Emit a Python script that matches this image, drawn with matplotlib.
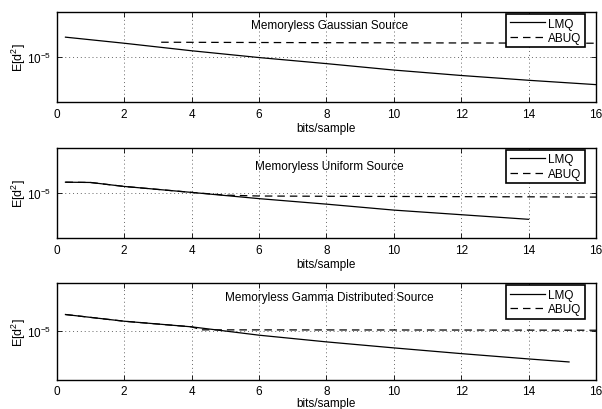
import numpy as np
import matplotlib
matplotlib.use("Agg")
import matplotlib.pyplot as plt
from matplotlib.ticker import FixedLocator, NullLocator

plt.rcParams['font.family'] = ['Liberation Sans', 'DejaVu Sans']
plt.rcParams['mathtext.fontset'] = 'custom'
plt.rcParams['mathtext.rm'] = 'Liberation Sans'
plt.rcParams['mathtext.it'] = 'Liberation Sans:italic'

titles = ["Memoryless Gaussian Source",
          "Memoryless Uniform Source",
          "Memoryless Gamma Distributed Source"]

# --- Gaussian ---
g_lmq_x = [0.26, 2, 4, 6, 8, 10, 12, 14, 16]
g_lmq_y = [10**v for v in [-4.781, -4.848, -4.931, -5.006, -5.073, -5.144, -5.204, -5.257, -5.305]]
g_abuq_x = [3.1, 8, 16]
g_abuq_y = [10**v for v in [-4.837, -4.842, -4.848]]

# --- Uniform ---
u_lmq_x = [0.26, 1, 2, 4, 6, 8, 10, 12, 14]
u_lmq_y = [10**v for v in [-4.882, -4.885, -4.929, -4.995, -5.064, -5.125, -5.191, -5.242, -5.293]]
u_abuq_x = [0.26, 1, 2, 4, 5, 6, 8, 10, 12, 14, 16]
u_abuq_y = [10**v for v in [-4.882, -4.885, -4.929, -4.995, -5.025, -5.035, -5.038, -5.040, -5.042, -5.044, -5.047]]

# --- Gamma ---
m_lmq_x = [0.26, 2, 4, 6, 8, 10, 12, 14, 15.2]
m_lmq_y = [10**v for v in [-4.828, -4.897, -4.955, -5.041, -5.110, -5.172, -5.231, -5.286, -5.317]]
m_abuq_x = [0.26, 2, 4, 4.3, 8, 12, 16]
m_abuq_y = [10**v for v in [-4.828, -4.897, -4.955, -4.986, -4.987, -4.988, -4.990]]

series = [(g_lmq_x, g_lmq_y, g_abuq_x, g_abuq_y),
          (u_lmq_x, u_lmq_y, u_abuq_x, u_abuq_y),
          (m_lmq_x, m_lmq_y, m_abuq_x, m_abuq_y)]

title_y = [0.858, 0.793, 0.855]
x_ticks = list(range(0, 17, 2))

fig = plt.figure(figsize=(6.02, 4.10), dpi=100)
left = 56.7 / 602
width = (596 - 56.7) / 602
boxes = [(12.7, 103.3), (148.7, 239.0), (283.7, 380.7)]
xlabel_pads = [1.5, 1.5, -0.5]

FS = 8.5
for i, (top, bot) in enumerate(boxes):
    ax = fig.add_axes([left, 1 - bot / 410, width, (bot - top) / 410])
    lx, ly, axx, ayy = series[i]
    ax.set_yscale('log')
    l1, = ax.plot(lx, ly, color='black', lw=0.9, label='LMQ')
    l2, = ax.plot(axx, ayy, color='black', lw=0.9, ls=(0, (6, 4)), label='ABUQ')
    ax.set_xlim(0, 16)
    ax.set_ylim(10**-5.5, 10**-4.5)
    ax.xaxis.set_major_locator(FixedLocator(x_ticks))
    ax.yaxis.set_major_locator(FixedLocator([1e-5]))
    ax.yaxis.set_minor_locator(NullLocator())
    ax.set_yticklabels([r'$10^{-5}$'])
    ax.tick_params(direction='in', top=True, right=True, length=3.5, width=0.6,
                   labelsize=FS, pad=4)
    ax.grid(True, which='major', ls=(0, (1, 3)), color='0.4', lw=0.7)
    for s in ax.spines.values():
        s.set_linewidth(1.0)
    ax.set_xlabel('bits/sample', fontsize=FS, labelpad=xlabel_pads[i])
    ax.set_ylabel(r'E[d$^{\mathregular{2}}$]', fontsize=FS + 0.5, labelpad=-1)
    ax.text(8.1, title_y[i], titles[i], transform=ax.get_xaxis_transform(),
            ha='center', va='center', fontsize=FS)
    leg = ax.legend(handles=[l1, l2], loc='upper right', fontsize=FS,
                    bbox_to_anchor=(0.9796, 0.975),
                    frameon=True, fancybox=False, edgecolor='black',
                    framealpha=1, borderpad=0.3, labelspacing=0.2,
                    handlelength=3.0, handletextpad=0.25, borderaxespad=0.0)
    leg.get_frame().set_linewidth(1.2)

fig.savefig('out.png', dpi=100)
